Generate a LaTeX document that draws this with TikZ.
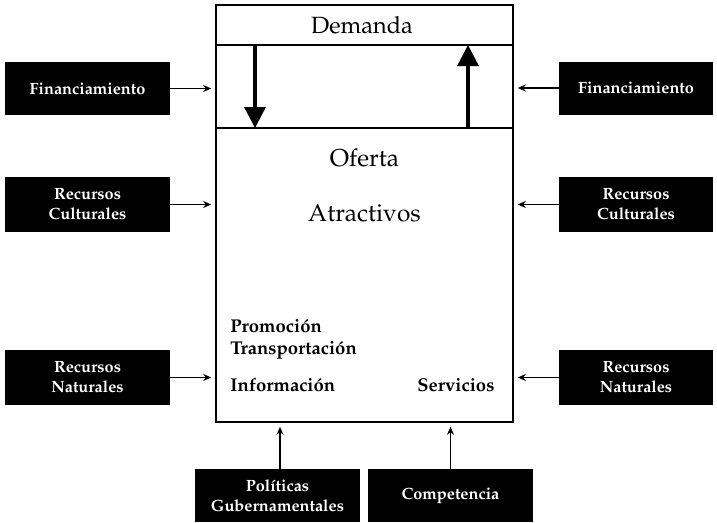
\documentclass[tikz,border=0pt]{standalone}
\usepackage[T1]{fontenc}
\usepackage{mathpazo}
\usepackage{tikz}
\usetikzlibrary{positioning}
\usetikzlibrary{arrows.meta}
\tikzset{srcbox/.style = {fill=black, text=white, align=center, inner sep=0,
                          font=\bfseries\fontsize{16.3}{20}\selectfont}}
\tikzset{feed/.style = {-{Stealth[length=8pt,width=7pt]}, line width=1.8pt,
                        shorten >=4pt}}
\tikzset{flow/.style = {-{Triangle[length=21pt,width=21pt]}, line width=3.4pt}}
\tikzset{bigtxt/.style = {font=\fontsize{24.5}{28}\selectfont, inner sep=0}}
\tikzset{smalltxt/.style = {font=\bfseries\fontsize{18.5}{22}\selectfont, inner sep=0,
                            anchor=base west}}
\tikzset{
  every picture/.style={
    every path/.style={thick},
  }
}

\begin{document}
\begin{tikzpicture}[x=1pt,y=-1pt]
        \useasboundingbox (0,0) rectangle (717,522);
        \node[draw, line width=1.6pt, minimum width=297, minimum height=417, inner sep=0]
          (sys) at (364.5,213.5) {};
        \draw[line width=1.6pt] (216,45) coordinate (d1) -- (513,45) coordinate (d2);
        \draw[line width=1.6pt] (216,128) coordinate (o1) -- (513,128) coordinate (o2);
        \node[bigtxt, font=\fontsize{23.5}{28}\selectfont] (dem) at (362,25) {Demanda};
        \coordinate (dn1) at (255,45);
        \coordinate (dn2) at (255,128);
        \coordinate (up1) at (468,128);
        \coordinate (up2) at (468,45);
        \draw[flow] (dn1) -- (dn2);
        \draw[flow] (up1) -- (up2);
        \node[bigtxt] (ofe) at (364.5,158) {Oferta};
        \node[bigtxt] (atr) at (364.5,213) {Atractivos};
        \node[smalltxt] (pro) at (230,332) {Promoción};
        \node[smalltxt] (tra) at (230,354) {Transportación};
        \node[smalltxt] (inf) at (230,391) {Información};
        \node[smalltxt] (ser) at (417,391) {Servicios};
        % left side
        \node[srcbox, minimum width=165, minimum height=53] (finl) at (87.5,88.5) {Financiamiento};
        \node[srcbox, minimum width=165, minimum height=55] (cull) at (87.5,204.5) {Recursos\\Culturales};
        \node[srcbox, minimum width=165, minimum height=55] (natl) at (87.5,377.5) {Recursos\\Naturales};
        % right side
        \node[srcbox, minimum width=154, minimum height=53] (finr) at (636,88) {Financiamiento};
        \node[srcbox, minimum width=154, minimum height=55] (culr) at (636,204.5) {Recursos\\Culturales};
        \node[srcbox, minimum width=154, minimum height=55] (natr) at (636,377.5) {Recursos\\Naturales};
        % bottom
        \node[srcbox, minimum width=165, minimum height=53] (pol) at (277.5,495.5) {Políticas\\Gubernamentales};
        \node[srcbox, minimum width=165, minimum height=53] (com) at (450.5,495.5) {Competencia};
        \draw[feed] (finl.east) -- (finl.east -| sys.west);
        \draw[feed] (cull.east) -- (cull.east -| sys.west);
        \draw[feed] (natl.east) -- (natl.east -| sys.west);
        \draw[feed] (finr.west) -- (finr.west -| sys.east);
        \draw[feed] (culr.west) -- (culr.west -| sys.east);
        \draw[feed] (natr.west) -- (natr.west -| sys.east);
        \draw[feed] (pol.north -| 280,0) -- (280,0 |- sys.south);
        \draw[feed] (com.north) -- (com.north |- sys.south);
      \end{tikzpicture}
\end{document}
